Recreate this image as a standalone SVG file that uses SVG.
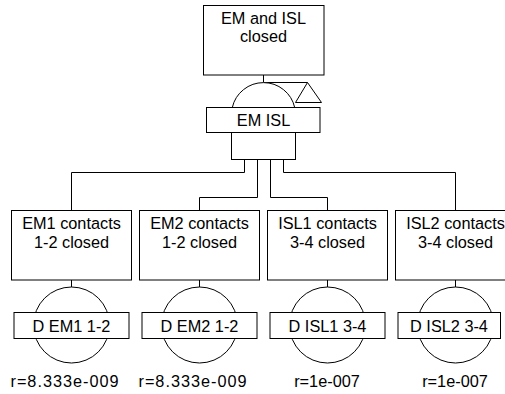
<svg xmlns="http://www.w3.org/2000/svg" width="505" height="394" viewBox="0 0 505 394">
  <style>
    .box { fill: #ffffff; stroke: #000000; stroke-width: 1; }
    .ln { fill: none; stroke: #000000; stroke-width: 1; }
    text { font-family: "Liberation Sans", Arial, sans-serif; font-size: 16.3px; fill: #000000; text-anchor: middle; }
  </style>
  <rect width="505" height="394" fill="#ffffff"/>

  <!-- top event with AND gate -->
  <g id="top">
    <rect class="box" x="203.5" y="5.5" width="120.5" height="69.5"/>
    <text x="263.5" y="24">EM and ISL</text>
    <text x="263.5" y="42">closed</text>
    <path class="ln" d="M263.5 75 V82.5 H307.5"/>
    <path class="ln" d="M307.5 82.5 L295.5 102.5 H321.5 Z"/>
    <path class="box" d="M232.3 107.5 A32 32 0 0 1 294.7 107.5"/>
    <rect class="box" x="206.5" y="107.5" width="113.5" height="25"/>
    <text x="263.5" y="126">EM ISL</text>
    <rect class="box" x="231.5" y="132.5" width="64" height="27"/>
  </g>

  <!-- connectors from gate to children -->
  <g id="connectors">
    <path class="ln" d="M244.5 159.5 V172.5 H71.5 V210.5"/>
    <path class="ln" d="M257.5 159.5 V197.5 H199.5 V210.5"/>
    <path class="ln" d="M270.5 159.5 V197.5 H327.5 V210.5"/>
    <path class="ln" d="M283.5 159.5 V172.5 H455.5 V210.5"/>
  </g>

  <g id="em1">
    <rect class="box" x="11.5" y="210.5" width="120" height="69.5"/>
    <text x="71.5" y="228.5">EM1 contacts</text>
    <text x="71.5" y="247.5">1-2 closed</text>
    <path class="ln" d="M71.5 280 V287"/>
    <circle class="box" cx="71.5" cy="325" r="38"/>
    <rect class="box" x="14" y="312.5" width="115" height="26"/>
    <text x="71.5" y="331.5">D EM1 1-2</text>
    <text x="64.5" y="387" textLength="108" lengthAdjust="spacing">r=8.333e-009</text>
  </g>

  <g id="em2">
    <rect class="box" x="139.5" y="210.5" width="120" height="69.5"/>
    <text x="199.5" y="228.5">EM2 contacts</text>
    <text x="199.5" y="247.5">1-2 closed</text>
    <path class="ln" d="M199.5 280 V287"/>
    <circle class="box" cx="199.5" cy="325" r="38"/>
    <rect class="box" x="142" y="312.5" width="115" height="26"/>
    <text x="199.5" y="331.5">D EM2 1-2</text>
    <text x="192.5" y="387" textLength="108" lengthAdjust="spacing">r=8.333e-009</text>
  </g>

  <g id="isl1">
    <rect class="box" x="267.5" y="210.5" width="120" height="69.5"/>
    <text x="327.5" y="228.5">ISL1 contacts</text>
    <text x="327.5" y="247.5">3-4 closed</text>
    <path class="ln" d="M327.5 280 V287"/>
    <circle class="box" cx="327.5" cy="325" r="38"/>
    <rect class="box" x="270" y="312.5" width="115" height="26"/>
    <text x="327.5" y="331.5">D ISL1 3-4</text>
    <text x="327" y="387">r=1e-007</text>
  </g>

  <g id="isl2">
    <rect class="box" x="395.5" y="210.5" width="120" height="69.5"/>
    <text x="455.5" y="228.5">ISL2 contacts</text>
    <text x="455.5" y="247.5">3-4 closed</text>
    <path class="ln" d="M455.5 280 V287"/>
    <circle class="box" cx="455.5" cy="325" r="38"/>
    <rect class="box" x="398" y="312.5" width="102.5" height="26"/>
    <text x="449" y="331.5">D ISL2 3-4</text>
    <text x="455" y="387">r=1e-007</text>
  </g>
</svg>
